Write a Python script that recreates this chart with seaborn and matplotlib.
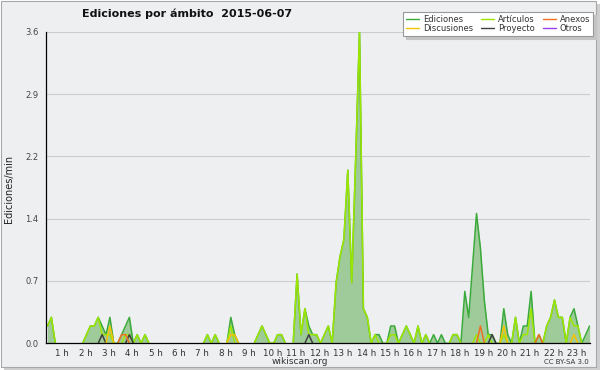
import numpy as np
import pandas as pd
import matplotlib
matplotlib.use("Agg")
import matplotlib.pyplot as plt
from matplotlib.lines import Line2D
from matplotlib.patches import Rectangle
import seaborn as sns

# ---- data (edits/min, 10-minute slots) ----
ediciones = [
    0.2, 0.3, 0, 0, 0, 0, 0, 0, 0, 0,            # 0-9
    0.1, 0.2, 0.2, 0.3, 0.2, 0.1, 0.3, 0, 0, 0.1,  # 10-19
    0.2, 0.3, 0, 0.1, 0, 0.1, 0, 0, 0, 0,          # 20-29
    0, 0, 0, 0, 0, 0, 0, 0, 0, 0,                  # 30-39
    0, 0.1, 0, 0.1, 0, 0, 0, 0.3, 0.1, 0,          # 40-49
    0, 0, 0, 0, 0.1, 0.2, 0.1, 0, 0, 0.1,          # 50-59
    0.1, 0, 0, 0, 0.8, 0.1, 0.4, 0.2, 0.1, 0.1,    # 60-69
    0, 0.1, 0.2, 0, 0.7, 1.0, 1.2, 2.0, 0.7, 2.1,  # 70-79
    3.6, 0.4, 0.3, 0, 0.1, 0.1, 0, 0, 0.2, 0.2,    # 80-89
    0, 0.1, 0.2, 0.1, 0, 0.2, 0, 0.1, 0, 0.1,      # 90-99
    0, 0.1, 0, 0, 0.1, 0.1, 0, 0.6, 0.3, 0.9,      # 100-109
    1.5, 1.1, 0.5, 0.1, 0.1, 0, 0, 0.4, 0.1, 0,    # 110-119
    0.3, 0, 0.2, 0.2, 0.6, 0, 0.1, 0, 0.2, 0.3,    # 120-129
    0.5, 0.3, 0.3, 0, 0.3, 0.4, 0.2, 0, 0.1, 0.2,  # 130-139
]
articulos = [
    0.2, 0.3, 0, 0, 0, 0, 0, 0, 0, 0,
    0.1, 0.2, 0.2, 0.3, 0.1, 0.1, 0.1, 0, 0, 0,
    0.1, 0.1, 0, 0.1, 0, 0.1, 0, 0, 0, 0,
    0, 0, 0, 0, 0, 0, 0, 0, 0, 0,
    0, 0.1, 0, 0.1, 0, 0, 0, 0.2, 0, 0,
    0, 0, 0, 0, 0.1, 0.2, 0.1, 0, 0, 0.1,
    0.1, 0, 0, 0, 0.8, 0.1, 0.4, 0.1, 0.1, 0.1,
    0, 0.1, 0.2, 0, 0.7, 1.0, 1.2, 2.0, 0.7, 2.1,
    3.6, 0.4, 0.3, 0, 0.1, 0, 0, 0, 0.1, 0.1,
    0, 0.1, 0.2, 0.1, 0, 0.2, 0, 0.1, 0, 0,
    0, 0, 0, 0, 0.1, 0.1, 0, 0, 0, 0,
    0.1, 0, 0, 0.1, 0, 0, 0, 0.1, 0, 0,
    0.3, 0, 0.1, 0.1, 0.4, 0, 0, 0, 0.2, 0.3,
    0.5, 0.3, 0.3, 0, 0.3, 0.2, 0.2, 0, 0, 0,
]
anexos = [0.0] * 140
for k, v in {19: 0.1, 20: 0.1, 111: 0.2, 126: 0.1}.items():
    anexos[k] = v
discusiones = [0.0] * 140
for k, v in {16: 0.2, 47: 0.1, 48: 0.1, 117: 0.2, 135: 0.1}.items():
    discusiones[k] = v
proyecto = [0.0] * 140
for k, v in {14: 0.1, 21: 0.1, 67: 0.1, 114: 0.1}.items():
    proyecto[k] = v
otros = [0.0] * 140

hour_labels = [f"{h} h" for h in range(1, 24)]
y_major = [0.0, 0.72, 1.44, 2.16, 2.88, 3.6]
y_major_labels = ["0.0", "0.7", "1.4", "2.2", "2.9", "3.6"]

series = {
    "Ediciones": ediciones, "Artículos": articulos, "Anexos": anexos,
    "Discusiones": discusiones, "Proyecto": proyecto, "Otros": otros,
}
colors = {
    "Ediciones": "#3aaa3a",
    "Artículos": "#9de600",
    "Anexos": "#ee7020",
    "Discusiones": "#f5c400",
    "Proyecto": "#404040",
    "Otros": "#9a40f0",
}


def segments(name, vals):
    """Long-form rows for the visible (non-baseline) runs of a series."""
    v = np.asarray(vals, dtype=float)
    n = len(v)
    keep = np.zeros(n, bool)
    for i in range(n):
        lo, hi = max(0, i - 1), min(n, i + 2)
        keep[i] = np.any(v[lo:hi] > 0)
    rows, seg, prev = [], -1, False
    for i in range(n):
        if keep[i]:
            if not prev:
                seg += 1
            rows.append((name, f"{name}-{seg}", i, v[i]))
        prev = keep[i]
    return pd.DataFrame(rows, columns=["serie", "seg", "i", "v"])


# ---- figure ----
sns.set_style("white")
plt.rcParams["font.family"] = ["DejaVu Sans"]
W, H = 600, 370
fig = plt.figure(figsize=(6.0, 3.7), dpi=100)
fig.patch.set_facecolor("white")
fig.patches.append(Rectangle((4 / W, 0), 596 / W, 366 / H, transform=fig.transFigure,
                             facecolor="#cfcfcf", edgecolor="none", zorder=-3))
fig.patches.append(Rectangle((0.5 / W, 3.5 / H), 595 / W, 366 / H, transform=fig.transFigure,
                             facecolor="#eeeff1", edgecolor="#a8a8a8", linewidth=0.8, zorder=-2))

x0_px, x1_px = 46, 590
y0_px, y1_px = 343.3, 31.7
ax = fig.add_axes([x0_px / W, 1 - y0_px / H, (x1_px - x0_px) / W, (y0_px - y1_px) / H])
ax.set_facecolor("none")

idx = np.arange(len(ediciones))
ax.fill_between(idx, 0, ediciones, color="#9fca9a", linewidth=0, zorder=1)
order = ["Ediciones", "Artículos", "Otros", "Proyecto", "Anexos", "Discusiones"]
for name in order:
    d = segments(name, series[name])
    if len(d) == 0:
        continue
    sns.lineplot(data=d, x="i", y="v", units="seg", estimator=None, ax=ax,
                 color=colors[name], linewidth=1.1, legend=False, zorder=2)

ax.set_xlim(-0.385, 139.1)
ax.set_ylim(0, 3.6)
ax.set_xlabel("")
ax.set_ylabel("")

for yv in y_major[1:]:
    ax.axhline(yv, color="#cccccc", linewidth=0.8, zorder=0)

for s in ["top", "right"]:
    ax.spines[s].set_visible(False)
for s in ["left", "bottom"]:
    ax.spines[s].set_color("black")
    ax.spines[s].set_linewidth(0.9)
    ax.spines[s].set_zorder(3)

ax.set_yticks(y_major)
ax.set_yticklabels(y_major_labels, fontsize=6, color="#444444")
ax.set_yticks(np.arange(0, 3.6001, 0.18), minor=True)
ax.tick_params(axis="y", which="major", length=4, width=0.8, color="black", pad=1.5, direction="out")
ax.tick_params(axis="y", which="minor", length=2.5, width=0.8, color="black", direction="out")

hour_pos = [6 * h - 2.28 for h in range(1, 24)]
ax.set_xticks(hour_pos)
ax.set_xticklabels(hour_labels, fontsize=6.3, color="#333333")
ax.set_xticks(idx, minor=True)
ax.tick_params(axis="x", which="major", length=0, pad=4)
ax.tick_params(axis="x", which="minor", length=3, width=0.8, color="black", direction="out")

fig.text(187.5 / W, 1 - 13.5 / H, "Ediciones por ámbito  2015-06-07",
         fontsize=8, fontweight="bold", ha="center", va="center", color="#111111")
fig.text(9.5 / W, 1 - 188.5 / H, "Ediciones/min", rotation=90,
         fontsize=7, ha="center", va="center", color="#222222")
fig.text(300 / W, 1 - 361 / H, "wikiscan.org", fontsize=6.5,
         ha="center", va="center", color="#333333")
fig.text(589 / W, 1 - 362 / H, "CC BY-SA 3.0", fontsize=5,
         ha="right", va="center", color="#333333")

leg_order = ["Ediciones", "Discusiones", "Artículos", "Proyecto", "Anexos", "Otros"]
handles = [Line2D([0], [0], color=colors[n], linewidth=1.0) for n in leg_order]
leg = fig.legend(handles, leg_order, ncol=3, loc="upper right",
                 bbox_to_anchor=(593 / W, 1 - 12 / H), fontsize=6.0,
                 frameon=True, fancybox=False,
                 shadow={"color": "#c4c4c4", "alpha": 1},
                 handlelength=1.6, handletextpad=0.5, columnspacing=0.9,
                 borderpad=0.3, labelspacing=0.1, borderaxespad=0)
leg.get_frame().set_edgecolor("#999999")
leg.get_frame().set_facecolor("white")
leg.get_frame().set_linewidth(0.8)
for t in leg.get_texts():
    t.set_color("#333333")

fig.savefig("out.png", dpi=100, facecolor=fig.get_facecolor())
